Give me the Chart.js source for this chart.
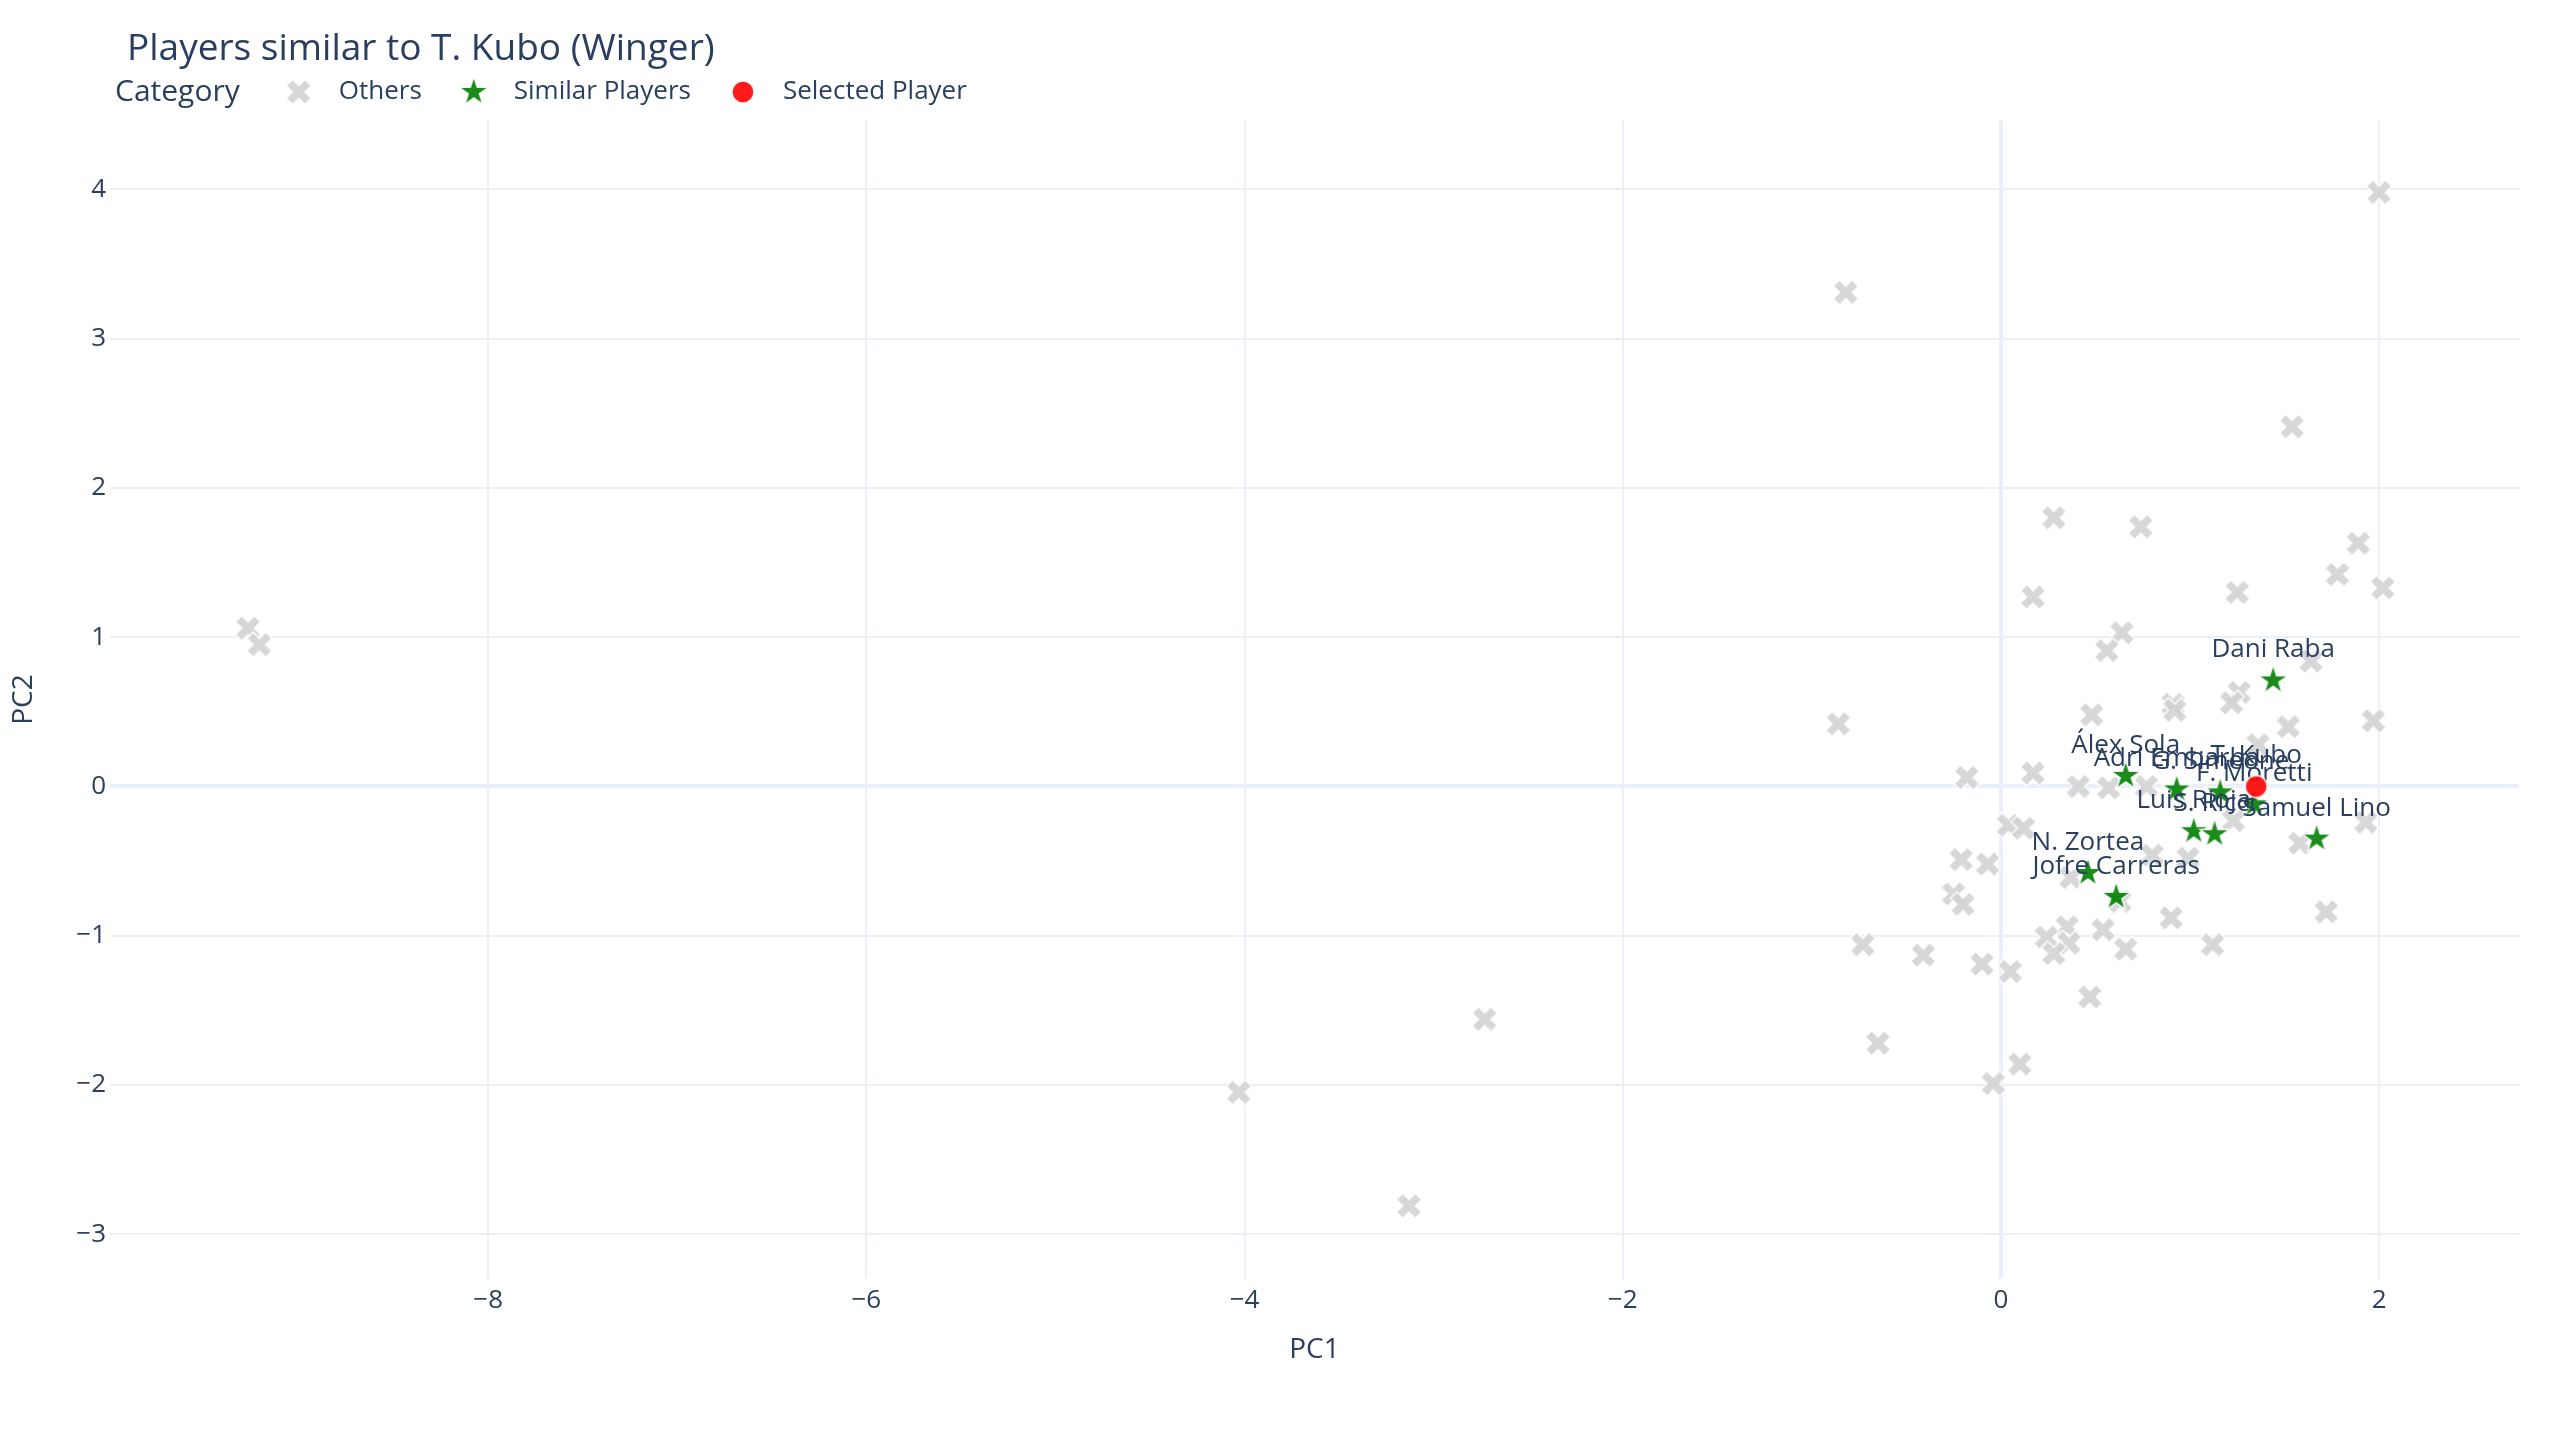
<!DOCTYPE html>
<html>
<head>
<meta charset="utf-8">
<title>Players similar to T. Kubo (Winger)</title>
<script src="https://cdn.jsdelivr.net/npm/chart.js@4.4.1/dist/chart.umd.min.js"></script>
<style>
  html, body { margin: 0; padding: 0; background: #ffffff; }
  canvas { display: block; }
</style>
</head>
<body>
<canvas id="pcaChart" width="2560" height="1440"></canvas>
<script>
// PCA of winger stats: all players, the 10 nearest, and the selected one
const othersX = [2.00, -0.82, 1.54, 0.28, 0.74, 1.89, 1.78, 2.02, 1.25, 0.17,
  0.64, 0.56, 1.64, 1.26, 1.22, 0.91, 0.92, 0.48, 1.52, 1.97,
  -0.86, 1.36, -0.18, 0.17, 0.41, 0.57, 0.77, -9.27, -9.21, 0.04,
  0.12, 1.23, 1.93, 1.58, -0.21, -0.07, 0.80, 0.99, 0.37, 0.63,
  -0.25, -0.20, 1.72, 0.90, 0.35, 0.54, 0.24, 0.36, 0.28, 0.66,
  1.12, -0.73, -0.41, -0.10, 0.05, 0.47, -0.65, 0.10, -0.04, -2.73,
  -4.03, -3.13];
const othersY = [3.98, 3.31, 2.41, 1.80, 1.74, 1.63, 1.42, 1.33, 1.30, 1.27,
  1.03, 0.91, 0.84, 0.63, 0.56, 0.55, 0.51, 0.48, 0.40, 0.44,
  0.42, 0.28, 0.06, 0.09, 0.00, -0.01, 0.00, 1.06, 0.95, -0.26,
  -0.28, -0.23, -0.24, -0.38, -0.49, -0.52, -0.46, -0.48, -0.61, -0.77,
  -0.72, -0.79, -0.84, -0.88, -0.94, -0.96, -1.01, -1.05, -1.12, -1.09,
  -1.06, -1.06, -1.13, -1.19, -1.24, -1.41, -1.72, -1.86, -1.99, -1.56,
  -2.05, -2.81];

const similarNames = ["Dani Raba", "Álex Sola", "Adri Embarba", "G. Simeone", "F. Moretti",
  "Luis Rioja", "S. Ricci", "Samuel Lino", "N. Zortea", "Jofre Carreras"];
const similarX = [1.44, 0.66, 0.93, 1.16, 1.34, 1.02, 1.13, 1.67, 0.46, 0.61];
const similarY = [0.71, 0.07, -0.02, -0.04, -0.12, -0.30, -0.32, -0.35, -0.58, -0.74];

const selectedNames = ["T. Kubo"];
const selectedX = [1.35];
const selectedY = [0.00];

const categories = ["Others", "Similar Players", "Selected Player"];
const xTicks = [-8, -6, -4, -2, 0, 2];
const yTicks = [-3, -2, -1, 0, 1, 2, 3, 4];

const chartTitle = "Players similar to T. Kubo (Winger)";
const legendTitle = "Category";

const FONT = "'Open Sans', sans-serif";
const TEXT = "#2a3f5f";
const GRID = "#EBF0F8";

Chart.defaults.font.family = FONT;
Chart.defaults.color = TEXT;

// plotly-like filled symbols, drawn once and used as point images
function makeMarker(size, color, path) {
  const c = document.createElement("canvas");
  c.width = size;
  c.height = size;
  const g = c.getContext("2d");
  g.translate(size / 2, size / 2);
  g.beginPath();
  path(g);
  g.closePath();
  g.fillStyle = color;
  g.fill();
  g.lineWidth = 1.5;
  g.strokeStyle = "rgba(255,255,255,0.9)";
  g.stroke();
  return c;
}

const xMarker = makeMarker(30, "rgba(211,211,211,0.9)", (g) => {
  const r = 6.3;
  const pts = [[0, r], [r, 2 * r], [2 * r, r], [r, 0], [2 * r, -r], [r, -2 * r],
    [0, -r], [-r, -2 * r], [-2 * r, -r], [-r, 0], [-2 * r, r], [-r, 2 * r]];
  pts.forEach((p, i) => (i ? g.lineTo(p[0], p[1]) : g.moveTo(p[0], p[1])));
});

const starMarker = makeMarker(36, "rgba(0,128,0,0.9)", (g) => {
  const R = 15.4, r = R * 0.382;
  for (let i = 0; i < 10; i++) {
    const a = -Math.PI / 2 + i * Math.PI / 5;
    const rad = i % 2 ? r : R;
    const px = Math.cos(a) * rad, py = Math.sin(a) * rad;
    i ? g.lineTo(px, py) : g.moveTo(px, py);
  }
});

const dotMarker = makeMarker(28, "rgba(255,0,0,0.9)", (g) => {
  g.arc(0, 0, 11, 0, Math.PI * 2);
});

const toPoints = (xs, ys) => xs.map((x, i) => ({ x: x, y: ys[i] }));
const minus = (v) => (v < 0 ? "\u2212" + Math.abs(v) : String(v));

// names written above the markers ("top center")
const pointLabels = {
  id: "pointLabels",
  afterDatasetDraw(chart, args) {
    const names = chart.data.datasets[args.index].names;
    if (!names) return;
    const ctx = chart.ctx;
    ctx.save();
    ctx.font = "26px " + FONT;
    ctx.fillStyle = TEXT;
    ctx.textAlign = "center";
    ctx.textBaseline = "alphabetic";
    args.meta.data.forEach((pt, i) => ctx.fillText(names[i], pt.x, pt.y - 23));
    ctx.restore();
  },
};

// title + one-line legend like plotly's horizontal legend
const header = {
  id: "header",
  afterDraw(chart) {
    const ctx = chart.ctx;
    ctx.save();
    ctx.fillStyle = TEXT;
    ctx.textAlign = "left";
    ctx.textBaseline = "middle";
    ctx.font = "37px " + FONT;
    ctx.fillText(chartTitle, 127, 49);
    ctx.font = "30px " + FONT;
    ctx.fillText(legendTitle, 115, 92);
    let x = 115 + ctx.measureText(legendTitle).width + 59;
    ctx.font = "26px " + FONT;
    chart.data.datasets.forEach((ds) => {
      const img = ds.pointStyle;
      ctx.drawImage(img, x - img.width / 2, 92 - img.height / 2);
      ctx.fillText(ds.label, x + 40, 92);
      x += 40 + ctx.measureText(ds.label).width + 52;
    });
    ctx.restore();
  },
};

const gridWidth = (c) => (c.tick && c.tick.value === 0 ? 4 : 2);

new Chart(document.getElementById("pcaChart"), {
  type: "scatter",
  data: {
    datasets: [
      {
        label: categories[0],
        data: toPoints(othersX, othersY),
        pointStyle: xMarker,
        pointRadius: 12,
        order: 3,
      },
      {
        label: categories[1],
        data: toPoints(similarX, similarY),
        names: similarNames,
        pointStyle: starMarker,
        pointRadius: 12,
        order: 2,
      },
      {
        label: categories[2],
        data: toPoints(selectedX, selectedY),
        names: selectedNames,
        pointStyle: dotMarker,
        pointRadius: 12,
        order: 1,
      },
    ],
  },
  options: {
    responsive: false,
    devicePixelRatio: 1,
    animation: false,
    events: [],
    layout: { padding: { top: 120, right: 41, bottom: 0, left: 0 } },
    plugins: {
      legend: { display: false },
      title: { display: false },
      tooltip: { enabled: false },
    },
    scales: {
      x: {
        type: "linear",
        min: -10.0,
        max: 2.74,
        afterBuildTicks: (s) => { s.ticks = xTicks.map((v) => ({ value: v })); },
        afterFit: (s) => { s.height = 161; },
        grid: { color: GRID, lineWidth: gridWidth, drawTicks: false },
        border: { display: false },
        ticks: { color: TEXT, font: { size: 26 }, padding: 6, callback: minus },
        title: { display: true, text: "PC1", color: TEXT, font: { size: 28 }, padding: { bottom: 73 } },
      },
      y: {
        type: "linear",
        min: -3.30,
        max: 4.465,
        afterBuildTicks: (s) => { s.ticks = yTicks.map((v) => ({ value: v })); },
        afterFit: (s) => { s.width = 110; },
        grid: { color: GRID, lineWidth: gridWidth, drawTicks: false },
        border: { display: false },
        ticks: { color: TEXT, font: { size: 26 }, padding: 4, callback: minus },
        title: { display: true, text: "PC2", color: TEXT, font: { size: 28 }, padding: { top: 7 } },
      },
    },
  },
  plugins: [pointLabels, header],
});
</script>
</body>
</html>
